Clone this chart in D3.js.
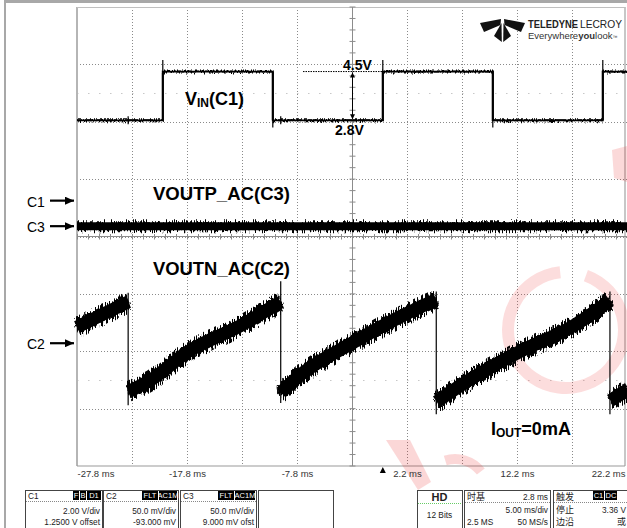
<!DOCTYPE html>
<html><head><meta charset="utf-8">
<script src="https://cdn.jsdelivr.net/npm/d3@7"></script>
<style>
html,body{margin:0;padding:0;background:#fff;overflow:hidden;}
svg{display:block;font-family:"Liberation Sans",Arial,sans-serif;}
</style></head><body>
<svg id="c" width="627" height="528"></svg>
<script>
// ---------------- data ----------------
const timeTicks = [-27.8, -17.8, -7.8, 2.2, 12.2, 22.2];
const timeTickLabels = ["-27.8 ms", "-17.8 ms", "-7.8 ms", "2.2 ms", "12.2 ms", "22.2 ms"];
const triggerTime = 0;

const chNames = ["C1", "C2", "C3"];
const chPerDiv = [2.0, 50.0, 50.0];      // V/div, mV/div, mV/div
const chOffset = [1.25, -93.0, 9.0];     // V, mV, mV

// VIN (C1), volts
const vinTime  = [-27.8, -20, -20, -10, -10, 0, 0, 10, 10, 20, 20, 22.2];
const vinVolts = [2.8, 2.8, 4.5, 4.5, 2.8, 2.8, 4.5, 4.5, 2.8, 2.8, 4.5, 4.5];
const vinSpikeTime  = [-20, -10, 0, 10, 20];
const vinSpikeVolts = [4.9, 2.55, 4.9, 2.55, 4.9];
const vinGlitchTime = [-23.15, -9.28];

// VOUTP_AC (C3), mV
const c3Time = [-27.8, 22.2];
const c3mV   = [0, 0];

// VOUTN_AC (C2), mV : ramps and discharge drops
const c2RampTime = [
  [-27.8, -25.5, -23.15],
  [-23.1, -21.1, -17.8, -12.8, -9.3],
  [-9.25, -7.8, -2.8, 2.2, 4.86],
  [4.9, 7.2, 12.3, 17.3, 20.65],
  [20.7, 22.2]
];
const c2RampmV = [
  [14, 25, 36],
  [-42, -32, -8, 16, 36],
  [-43, -30, 0, 26, 38],
  [-51, -36, -8, 15, 37],
  [-50, -41]
];
const c2DropTime = [-23.15, -9.28, 4.86, 20.65];
const c2DropHigh = [44, 54, 45, 45];
const c2DropLow  = [-54, -52, -62, -62];

// ---------------- layout ----------------
const svg = d3.select("#c");
const PL = 77, PR = 627, PT = 7, PB = 466;
const x = d3.scaleLinear().domain([-27.8, 22.2]).range([PL, PR]);
const divY = d3.scaleLinear().domain([-4, 4]).range([PB, PT]);
function chScale(perDiv, offset) {
  const c = -offset;
  return d3.scaleLinear().domain([c - 4 * perDiv, c + 4 * perDiv]).range([PB, PT]);
}
const yC1 = chScale(chPerDiv[0], chOffset[0]);
const yC2 = chScale(chPerDiv[1], chOffset[1]);
const yC3 = chScale(chPerDiv[2], chOffset[2]);

// ---------------- defs ----------------
const defs = svg.append("defs");
function noiseFilter(id, fx, fy, amp, scale, seed) {
  const f = defs.append("filter").attr("id", id)
    .attr("filterUnits", "userSpaceOnUse")
    .attr("x", 0).attr("y", 0).attr("width", 627).attr("height", 528)
    .attr("color-interpolation-filters", "sRGB");
  f.append("feTurbulence").attr("type", "fractalNoise")
    .attr("baseFrequency", fx + " " + fy).attr("numOctaves", 2).attr("seed", seed).attr("result", "t");
  f.append("feColorMatrix").attr("in", "t").attr("type", "matrix")
    .attr("values", `0 0 0 0 0.5  0 ${amp} 0 0 ${0.5 - amp * 0.5}  0 0 0 0 0  0 0 0 0 1`)
    .attr("result", "m");
  f.append("feDisplacementMap").attr("in", "SourceGraphic").attr("in2", "m")
    .attr("scale", scale).attr("xChannelSelector", "R").attr("yChannelSelector", "G");
}
noiseFilter("nzC2", 0.9, 0.08, 3.0, 9, 4);
noiseFilter("nzC2b", 0.9, 0.08, 3.0, 9, 19);
noiseFilter("nzC3", 0.9, 0.1, 3.0, 6, 7);
noiseFilter("nzC1", 0.9, 0.2, 2.5, 3, 11);

defs.append("marker").attr("id", "arr").attr("markerUnits", "userSpaceOnUse")
  .attr("markerWidth", 10).attr("markerHeight", 8).attr("refX", 9).attr("refY", 4)
  .attr("orient", "auto")
  .append("path").attr("d", "M0,0 L9,4 L0,8 Z").attr("fill", "#000");
defs.append("marker").attr("id", "sarr").attr("markerUnits", "userSpaceOnUse")
  .attr("markerWidth", 6).attr("markerHeight", 6).attr("refX", 5).attr("refY", 3)
  .attr("orient", "auto-start-reverse")
  .append("path").attr("d", "M0,0.5 L5,3 L0,5.5 Z").attr("fill", "#000");

// ---------------- frame ----------------
svg.append("rect").attr("x", 4).attr("y", 0).attr("width", 623).attr("height", 3).attr("fill", "#a8a8a8");
svg.append("rect").attr("x", 4).attr("y", 0).attr("width", 2).attr("height", 528).attr("fill", "#a8a8a8");

// ---------------- grid ----------------
const g = svg.append("g");
const divT = d3.range(0, 11).map(i => -27.8 + 5 * i);
g.selectAll(".vg").data(divT.slice(1, 10)).join("line")
  .attr("x1", d => x(d) + 0.5).attr("x2", d => x(d) + 0.5).attr("y1", PT).attr("y2", PB)
  .attr("stroke", "#8a8a8a").attr("stroke-width", 1).attr("stroke-dasharray", "1,2");
g.selectAll(".hg").data(d3.range(-3, 4)).join("line")
  .attr("x1", PL).attr("x2", PR).attr("y1", d => Math.round(divY(d)) + 0.5).attr("y2", d => Math.round(divY(d)) + 0.5)
  .attr("stroke", "#8a8a8a").attr("stroke-width", 1).attr("stroke-dasharray", "1,2");
// faint dotted rows
g.selectAll(".fr").data([2.5, -2.5]).join("line")
  .attr("x1", PL).attr("x2", PR).attr("y1", d => Math.round(divY(d)) + 0.5).attr("y2", d => Math.round(divY(d)) + 0.5)
  .attr("stroke", "#c8c8c8").attr("stroke-width", 1.2).attr("stroke-dasharray", "1.5,9.5");
// borders
g.append("line").attr("x1", PL).attr("x2", PL).attr("y1", PT).attr("y2", PB).attr("stroke", "#b5b5b5").attr("stroke-width", 2);
g.append("line").attr("x1", 625).attr("x2", 625).attr("y1", PT).attr("y2", PB).attr("stroke", "#b5b5b5").attr("stroke-width", 1.5);
g.append("line").attr("x1", PL).attr("x2", 625).attr("y1", PT + 0.5).attr("y2", PT + 0.5).attr("stroke", "#c0c0c0");
g.append("line").attr("x1", PL).attr("x2", 625).attr("y1", PB).attr("y2", PB).attr("stroke", "#9a9a9a").attr("stroke-width", 1.2);
// centre axes with minor ticks
const cx = x(-2.8), cy = divY(0);
g.append("line").attr("x1", cx + 0.5).attr("x2", cx + 0.5).attr("y1", PT).attr("y2", PB).attr("stroke", "#8c8c8c");
g.append("line").attr("x1", PL).attr("x2", PR).attr("y1", cy).attr("y2", cy).attr("stroke", "#8c8c8c");
g.selectAll(".mty").data(d3.range(-20, 21).map(i => i / 5)).join("line")
  .attr("x1", cx - 2.5).attr("x2", cx + 3.5).attr("y1", d => divY(d)).attr("y2", d => divY(d))
  .attr("stroke", "#8c8c8c");
g.selectAll(".mtx").data(d3.range(0, 51).map(i => -27.8 + i)).join("line")
  .attr("x1", d => x(d) + 0.5).attr("x2", d => x(d) + 0.5).attr("y1", cy - 2.5).attr("y2", cy + 3)
  .attr("stroke", "#8c8c8c");

// ---------------- watermark ----------------
const wm = svg.append("g").attr("opacity", 0.16);
wm.append("path")
  .attr("d", d3.arc().innerRadius(52).outerRadius(64).startAngle(0.35).endAngle(2 * Math.PI - 0.1)())
  .attr("transform", "translate(566,330)").attr("fill", "#f03030");
wm.append("path").attr("d", "M612,150 L627,146 L627,182 L614,178 Z").attr("fill", "#e81010");
wm.append("path").attr("d", "M386,440 L410,440 L431,482 L418,490 Z").attr("fill", "#e81010");
wm.append("path")
  .attr("d", d3.arc().innerRadius(28).outerRadius(38).startAngle(-0.3).endAngle(0.9)())
  .attr("transform", "translate(455,492)").attr("fill", "#e81010");

// ---------------- traces ----------------
// C1 VIN
const vinD = d3.line()(vinTime.map((t, i) => [x(t), yC1(vinVolts[i])]));
svg.append("path").attr("d", vinD).attr("fill", "none").attr("stroke", "#000").attr("stroke-width", 1.8);
svg.append("path").attr("d", vinD).attr("fill", "none").attr("stroke", "#000").attr("stroke-width", 2)
  .attr("filter", "url(#nzC1)");
svg.selectAll(".vsp").data(vinSpikeTime).join("line")
  .attr("x1", d => x(d)).attr("x2", d => x(d))
  .attr("y1", d => yC1(vinVolts[vinTime.indexOf(d)])).attr("y2", (d, i) => yC1(vinSpikeVolts[i]))
  .attr("stroke", "#000").attr("stroke-width", 1.2);
svg.selectAll(".vgl").data(vinGlitchTime).join("line")
  .attr("x1", d => x(d)).attr("x2", d => x(d))
  .attr("y1", yC1(2.8) - 4).attr("y2", yC1(2.8) + 4)
  .attr("stroke", "#000").attr("stroke-width", 1.2);

// C3
const c3D = d3.line()(c3Time.map((t, i) => [x(t), yC3(c3mV[i])]));
svg.append("path").attr("d", c3D).attr("fill", "none").attr("stroke", "#000").attr("stroke-width", 8);
svg.append("path").attr("d", c3D).attr("fill", "none").attr("stroke", "#000").attr("stroke-width", 8)
  .attr("filter", "url(#nzC3)");

// C2 ramps
const rampLine = d3.line().curve(d3.curveMonotoneX);
const c2core = svg.append("g");
const c2e1 = svg.append("g").attr("filter", "url(#nzC2)");
const c2e2 = svg.append("g").attr("filter", "url(#nzC2b)");
c2RampTime.forEach((ts, k) => {
  const d = rampLine(ts.map((t, i) => [x(t), yC2(c2RampmV[k][i])]));
  c2core.append("path").attr("d", d).attr("fill", "none").attr("stroke", "#000").attr("stroke-width", 13);
  c2e1.append("path").attr("d", d).attr("fill", "none").attr("stroke", "#000").attr("stroke-width", 13);
  c2e2.append("path").attr("d", d).attr("fill", "none").attr("stroke", "#000").attr("stroke-width", 13);
});
svg.selectAll(".c2d").data(c2DropTime).join("line")
  .attr("x1", d => x(d)).attr("x2", d => x(d))
  .attr("y1", (d, i) => yC2(c2DropHigh[i])).attr("y2", (d, i) => yC2(c2DropLow[i]))
  .attr("stroke", "#000").attr("stroke-width", 1.2);

// ---------------- annotations ----------------
svg.append("line").attr("x1", 303).attr("x2", x(triggerTime)).attr("y1", yC1(4.5)).attr("y2", yC1(4.5))
  .attr("stroke", "#000").attr("stroke-width", 1).attr("stroke-dasharray", "1.5,1");
svg.append("line").attr("x1", cx + 0.5).attr("x2", cx + 0.5).attr("y1", yC1(4.5) + 1).attr("y2", yC1(2.8) - 1)
  .attr("stroke", "#000").attr("stroke-width", 1)
  .attr("marker-start", "url(#sarr)").attr("marker-end", "url(#sarr)");
svg.append("text").attr("x", 343).attr("y", 70).attr("font-size", 14).attr("font-weight", "bold").text("4.5V");
svg.append("text").attr("x", 335).attr("y", 135).attr("font-size", 14).attr("font-weight", "bold").text("2.8V");

const vin = svg.append("text").attr("x", 185).attr("y", 105).attr("font-weight", "bold").attr("font-size", 18);
vin.append("tspan").text("V");
vin.append("tspan").attr("font-size", 12).attr("dy", 2).text("IN");
vin.append("tspan").attr("dy", -2).text("(C1)");

svg.append("text").attr("x", 153).attr("y", 200).attr("font-weight", "bold").attr("font-size", 18)
  .attr("textLength", 137).attr("lengthAdjust", "spacingAndGlyphs").text("VOUTP_AC(C3)");
svg.append("text").attr("x", 153).attr("y", 275).attr("font-weight", "bold").attr("font-size", 18)
  .attr("textLength", 137).attr("lengthAdjust", "spacingAndGlyphs").text("VOUTN_AC(C2)");

const iout = svg.append("text").attr("x", 491).attr("y", 435).attr("font-weight", "bold").attr("font-size", 18);
iout.append("tspan").text("I");
iout.append("tspan").attr("font-size", 12).attr("dy", 2).text("OUT");
iout.append("tspan").attr("dy", -2).text("=0mA");

// channel ground markers
const chY = [yC1(0), yC2(0), yC3(0)];
chNames.forEach((n, i) => {
  svg.append("text").attr("x", 27).attr("y", chY[i] + 6).attr("font-size", 14).text(n);
  svg.append("line").attr("x1", 50).attr("x2", 74).attr("y1", chY[i]).attr("y2", chY[i])
    .attr("stroke", "#000").attr("stroke-width", 2.2).attr("marker-end", "url(#arr)");
});

// ---------------- logo ----------------
const lg = svg.append("g").attr("transform", "translate(480,19)");
lg.append("path").attr("d", "M0,4 L21,0 L20.5,6 L4,13 Z").attr("fill", "#111");
lg.append("path").attr("d", "M45,4 L24,0 L24.5,6 L41,13 Z").attr("fill", "#111");
lg.append("path").attr("d", "M21.5,4 L21.8,23 L14,17 Z").attr("fill", "#111");
lg.append("path").attr("d", "M23.5,4 L23.2,23 L31,17 Z").attr("fill", "#111");
svg.append("text").attr("x", 528).attr("y", 28).attr("font-size", 10.5).attr("fill", "#222")
  .attr("font-weight", "bold").attr("textLength", 50).attr("lengthAdjust", "spacingAndGlyphs").text("TELEDYNE");
svg.append("text").attr("x", 580).attr("y", 28).attr("font-size", 10.5).attr("fill", "#222")
  .attr("textLength", 42).attr("lengthAdjust", "spacingAndGlyphs").text("LECROY");
const ly = svg.append("text").attr("x", 528).attr("y", 38.5).attr("font-size", 9.5).attr("fill", "#333");
ly.append("tspan").text("Everywhere");
ly.append("tspan").attr("font-weight", "bold").text("you");
ly.append("tspan").text("look");
ly.append("tspan").attr("font-size", 5).text("™");

// ---------------- time axis ----------------
const ax = svg.append("g").attr("transform", `translate(0,${PB})`)
  .call(d3.axisBottom(x).tickValues(timeTicks).tickSize(0).tickPadding(4)
    .tickFormat((d, i) => timeTickLabels[i]));
ax.select(".domain").remove();
ax.selectAll("text").attr("font-size", 9.5).attr("fill", "#333").attr("font-family", "Liberation Sans, Arial, sans-serif");
ax.selectAll("text").filter((d, i) => i === 0).attr("text-anchor", "start");
ax.selectAll("text").filter((d, i) => i === timeTicks.length - 1).attr("text-anchor", "end").attr("x", -2);
svg.append("path").attr("d", `M${x(triggerTime) - 3},473 L${x(triggerTime)},467 L${x(triggerTime) + 3},473 Z`).attr("fill", "#000");

// ---------------- info boxes ----------------
const ib = svg.append("g").attr("font-size", 8.3).attr("fill", "#222");
function box(bx, by, bw, bh) {
  ib.append("rect").attr("x", bx + 0.5).attr("y", by + 0.5).attr("width", bw).attr("height", bh)
    .attr("fill", "#fff").attr("stroke", "#444").attr("stroke-width", 1);
}
function sep(x1, x2, y, col) {
  ib.append("line").attr("x1", x1).attr("x2", x2).attr("y1", y + 0.5).attr("y2", y + 0.5)
    .attr("stroke", col || "#888").attr("stroke-dasharray", "1,1");
}
function tag(tx, ty, tw, label) {
  ib.append("rect").attr("x", tx).attr("y", ty).attr("width", tw).attr("height", 9).attr("fill", "#000");
  ib.append("text").attr("x", tx + tw / 2).attr("y", ty + 7.3).attr("text-anchor", "middle")
    .attr("fill", "#fff").attr("font-size", 7.5).text(label);
}
function txt(tx, ty, s, anchor, extra) {
  const t = ib.append("text").attr("x", tx).attr("y", ty).attr("text-anchor", anchor || "start").text(s);
  if (extra) extra(t);
  return t;
}
const chBoxX = [25, 103, 180];
const chBoxW = [77, 75, 76];
const chBoxLine2 = ["2.00 V/div", "50.0 mV/div", "50.0 mV/div"];
const chBoxLine3 = ["1.2500 V offset", "-93.000 mV", "9.000 mV ofst"];
const chTags = [[["F", 6], ["B", 6], ["D1", 14]], [["FLT", 16], ["AC1M", 18]], [["FLT", 16], ["AC1M", 20]]];
chNames.forEach((n, i) => {
  const bx = chBoxX[i], bw = chBoxW[i];
  box(bx, 490, bw, 42);
  txt(bx + 3, 499, n);
  let tx = bx + bw;
  chTags[i].slice().reverse().forEach(([lab, w]) => { tx -= w + 1; tag(tx, 491, w, lab); });
  sep(bx + 1, bx + bw, 501);
  txt(bx + bw - 2, 514, chBoxLine2[i], "end");
  txt(bx + bw - 2, 524.5, chBoxLine3[i], "end");
});
box(258, 490, 75, 42);
// HD
box(417, 490, 45, 42);
txt(439.5, 501, "HD", "middle", t => t.attr("font-size", 11).attr("font-weight", "bold"));
sep(418, 462, 503, "#6c6");
txt(439.5, 518, "12 Bits", "middle");
// timebase
box(464, 490, 86, 42);
txt(467, 500, "时基", "start", t => t.attr("font-family", "Noto Sans CJK SC").attr("font-size", 9));
txt(548, 500, "2.8 ms", "end");
sep(465, 550, 502);
txt(548, 513, "5.00 ms/div", "end");
txt(467, 524.5, "2.5 MS");
txt(548, 524.5, "50 MS/s", "end");
// trigger
box(553, 490, 80, 42);
txt(556, 500, "触发", "start", t => t.attr("font-family", "Noto Sans CJK SC").attr("font-size", 9));
tag(593, 491, 11, "C1");
tag(605, 491, 12, "DC");
sep(554, 627, 502);
txt(556, 513, "停止", "start", t => t.attr("font-family", "Noto Sans CJK SC").attr("font-size", 9));
txt(626, 513, "3.36 V", "end");
txt(556, 524.5, "边沿", "start", t => t.attr("font-family", "Noto Sans CJK SC").attr("font-size", 9));
txt(626, 524.5, "或", "end", t => t.attr("font-family", "Noto Sans CJK SC").attr("font-size", 9));
</script>
</body></html>
